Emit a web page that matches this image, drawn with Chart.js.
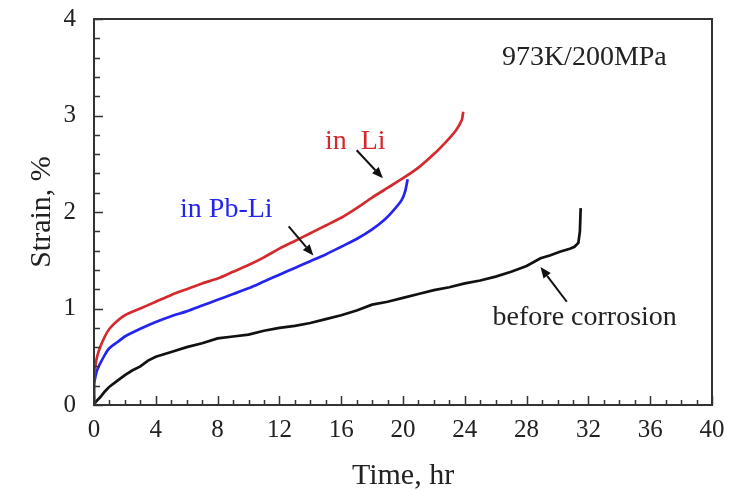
<!DOCTYPE html>
<html>
<head>
<meta charset="utf-8">
<script src="https://cdn.jsdelivr.net/npm/chart.js@4.4.0/dist/chart.umd.min.js"></script>
<style>
  html, body { margin: 0; padding: 0; background: #fff; }
  canvas { display: block; }
</style>
</head>
<body>
<canvas id="creepChart" width="743" height="491"></canvas>
<script>
// time (hr) / strain (%)
const liTime   = [0, 0, 0.1, 0.2, 0.4, 0.7, 1, 1.5, 2, 3, 4, 5, 6, 7, 8, 9, 10, 11, 12, 13, 14, 15, 16, 17, 18, 19, 20, 21, 22, 22.8, 23.4, 23.8, 23.9];
const liStrain = [0, 0.29, 0.42, 0.5, 0.6, 0.71, 0.79, 0.87, 0.93, 1.0, 1.07, 1.14, 1.2, 1.26, 1.31, 1.38, 1.45, 1.53, 1.62, 1.7, 1.78, 1.86, 1.94, 2.04, 2.15, 2.25, 2.35, 2.46, 2.6, 2.73, 2.84, 2.95, 3.04];

const pbliTime   = [0, 0, 0.1, 0.2, 0.4, 0.7, 1, 1.5, 2, 3, 4, 5, 6, 7, 8, 9, 10, 11, 12, 13, 14, 15, 16, 17, 18, 18.8, 19.4, 19.9, 20.15, 20.3];
const pbliStrain = [0, 0.2, 0.3, 0.36, 0.43, 0.52, 0.59, 0.65, 0.71, 0.79, 0.86, 0.92, 0.97, 1.03, 1.09, 1.15, 1.21, 1.28, 1.35, 1.42, 1.49, 1.56, 1.64, 1.72, 1.82, 1.92, 2.02, 2.12, 2.22, 2.34];

const refTime   = [0, 0.1, 0.4, 0.7, 1, 1.5, 2, 2.5, 3, 3.5, 4, 5, 6, 7, 8, 9, 10, 11, 12, 13, 14, 15, 16, 17, 18, 19, 20, 21, 22, 23, 24, 25, 26, 27, 28, 28.9, 29.5, 30.2, 30.8, 31.1, 31.35, 31.45, 31.5];
const refStrain = [0, 0.03, 0.08, 0.14, 0.19, 0.25, 0.31, 0.36, 0.4, 0.46, 0.5, 0.55, 0.6, 0.64, 0.69, 0.71, 0.73, 0.77, 0.8, 0.82, 0.85, 0.89, 0.93, 0.98, 1.04, 1.07, 1.11, 1.15, 1.19, 1.22, 1.26, 1.29, 1.33, 1.38, 1.44, 1.52, 1.55, 1.59, 1.62, 1.64, 1.68, 1.8, 2.04];

const SERIF = "'Liberation Serif', 'Times New Roman', serif";
const RED = '#d42a2e';
const BLUE = '#2424ee';

function toPoints(xs, ys) {
    return xs.map((x, i) => ({ x: x, y: ys[i] }));
}

// labels and arrows, placed in data units (hr, %)
const notes = [
    { text: '973K/200MPa', x: 26.4, y: 3.6, color: '#222' },
    { text: 'in  Li', x: 14.95, y: 2.73, color: RED },
    { text: 'in Pb-Li', x: 5.57, y: 2.02, color: BLUE },
    { text: 'before corrosion', x: 25.8, y: 0.91, color: '#222' }
];
const arrows = [
    { x1: 17.0, y1: 2.64, x2: 18.7, y2: 2.35 },
    { x1: 12.6, y1: 1.85, x2: 14.2, y2: 1.55 },
    { x1: 30.6, y1: 1.07, x2: 28.9, y2: 1.43 }
];

// frame + inward ticks + annotations
const decorPlugin = {
    id: 'decor',
    afterDraw(chart) {
        const ctx = chart.ctx;
        const area = chart.chartArea;
        const xs = chart.scales.x, ys = chart.scales.y;
        ctx.save();
        ctx.strokeStyle = '#333';
        ctx.lineWidth = 2;
        ctx.strokeRect(area.left, area.top, area.right - area.left, area.bottom - area.top);

        ctx.lineWidth = 1.5;
        ctx.beginPath();
        for (let v = 0; v <= 40; v += 1) {
            const px = Math.round(xs.getPixelForValue(v)) + 0.5;
            const len = v % 4 === 0 ? 9 : 5;
            ctx.moveTo(px, area.bottom);
            ctx.lineTo(px, area.bottom - len);
        }
        for (let k = 0; k <= 20; k++) {
            const v = k * 0.2;
            const py = Math.round(ys.getPixelForValue(v)) + 0.5;
            const len = k % 5 === 0 ? 9 : 6;
            ctx.moveTo(area.left, py);
            ctx.lineTo(area.left + len, py);
        }
        ctx.stroke();

        ctx.font = '28px ' + SERIF;
        ctx.textBaseline = 'middle';
        ctx.textAlign = 'left';
        notes.forEach(n => {
            ctx.fillStyle = n.color;
            ctx.fillText(n.text, xs.getPixelForValue(n.x), ys.getPixelForValue(n.y));
        });

        ctx.strokeStyle = '#111';
        ctx.fillStyle = '#111';
        ctx.lineWidth = 2;
        arrows.forEach(a => {
            const x1 = xs.getPixelForValue(a.x1), y1 = ys.getPixelForValue(a.y1);
            const x2 = xs.getPixelForValue(a.x2), y2 = ys.getPixelForValue(a.y2);
            const ang = Math.atan2(y2 - y1, x2 - x1);
            const head = 11, half = 4.5;
            ctx.beginPath();
            ctx.moveTo(x1, y1);
            ctx.lineTo(x2 - head * Math.cos(ang), y2 - head * Math.sin(ang));
            ctx.stroke();
            ctx.beginPath();
            ctx.moveTo(x2, y2);
            ctx.lineTo(x2 - head * Math.cos(ang) + half * Math.sin(ang), y2 - head * Math.sin(ang) - half * Math.cos(ang));
            ctx.lineTo(x2 - head * Math.cos(ang) - half * Math.sin(ang), y2 - head * Math.sin(ang) + half * Math.cos(ang));
            ctx.closePath();
            ctx.fill();
        });
        ctx.restore();
    }
};

const lineStyle = { fill: false, pointRadius: 0, borderWidth: 2.7, tension: 0.2 };

new Chart(document.getElementById('creepChart'), {
    type: 'line',
    data: {
        datasets: [
            Object.assign({ label: 'in Li', data: toPoints(liTime, liStrain), borderColor: RED }, lineStyle),
            Object.assign({ label: 'in Pb-Li', data: toPoints(pbliTime, pbliStrain), borderColor: BLUE }, lineStyle),
            Object.assign({ label: 'before corrosion', data: toPoints(refTime, refStrain), borderColor: '#111' }, lineStyle, { tension: 0 })
        ]
    },
    options: {
        responsive: false,
        animation: false,
        layout: { padding: { top: 19, right: 31, left: 0, bottom: 0 } },
        plugins: { legend: { display: false }, tooltip: { enabled: false } },
        scales: {
            x: {
                type: 'linear',
                min: 0, max: 40,
                grid: { display: false },
                border: { display: false },
                ticks: { stepSize: 4, padding: 2, color: '#222', font: { family: SERIF, size: 25 } },
                title: { display: true, text: 'Time, hr', color: '#222', font: { family: SERIF, size: 30, lineHeight: 1.0 }, padding: { bottom: 0 } },
                afterFit(scale) { scale.height = 86; scale.paddingLeft = 0; scale.paddingRight = 0; }
            },
            y: {
                type: 'linear',
                min: 0, max: 4,
                grid: { display: false },
                border: { display: false },
                ticks: { stepSize: 1, padding: 10, color: '#222', font: { family: SERIF, size: 25 } },
                title: { display: true, text: 'Strain, %', color: '#222', font: { family: SERIF, size: 30 }, padding: { top: 24 } },
                afterFit(scale) { scale.width = 94; scale.paddingTop = 0; scale.paddingBottom = 0; }
            }
        }
    },
    plugins: [decorPlugin]
});
</script>
</body>
</html>
